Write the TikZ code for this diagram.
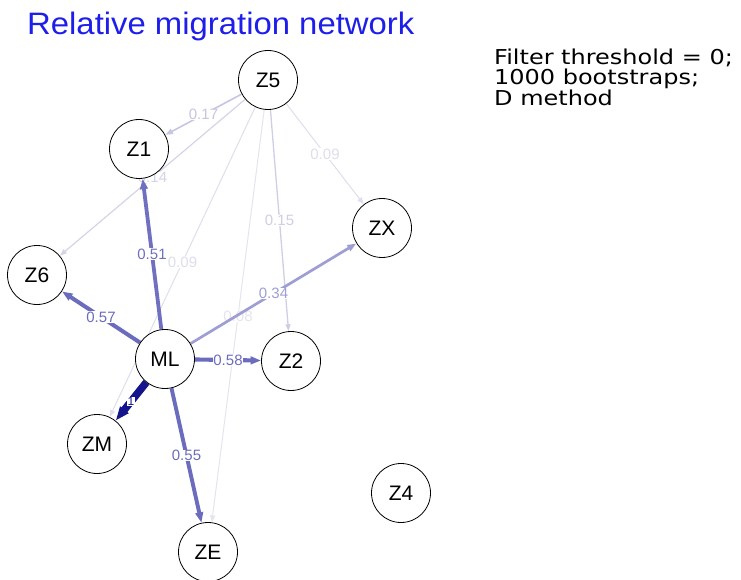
\documentclass[tikz,border=0pt]{standalone}
\usepackage{fontspec}
\setmainfont{Liberation Sans}
\newfontfamily\notefont{DejaVu Sans}[FakeStretch=1.17]
\newfontfamily\titlefont{Liberation Sans}[FakeStretch=1.06]
\usetikzlibrary{arrows.meta}

% edge colours, from faint (small weight) to dark (weight 1)
\definecolor{wA}{RGB}{228,228,238}
\definecolor{wB}{RGB}{222,222,236}
\definecolor{wC}{RGB}{212,212,232}
\definecolor{wD}{RGB}{206,206,230}
\definecolor{wE}{RGB}{198,198,228}
\definecolor{wF}{RGB}{158,158,212}
\definecolor{wG}{RGB}{112,112,192}
\definecolor{wH}{RGB}{108,108,190}
\definecolor{wI}{RGB}{20,20,140}
\definecolor{titleblue}{RGB}{30,30,235}

\pgfdeclarelayer{edges}
\pgfsetlayers{edges,main}

\tikzset{
  pop/.style={circle, draw=black, line width=0.8pt, fill=white,
    minimum size=59pt, inner sep=0pt, font=\fontsize{21}{21}\selectfont},
  link/.style n args={3}{draw=#1, line width=#2,
    -{Triangle[length=7pt, width=5pt, scale=#3]}},
  lab/.style={fill=white, inner sep=0.6pt, text=#1,
    font=\fontsize{15}{15}\selectfont},
}

\begin{document}
\begin{tikzpicture}[x=1pt, y=-1pt]
\useasboundingbox (0,0) rectangle (741,580);

% title and method note
\node[anchor=base west, inner sep=0pt, text=titleblue,
  font=\titlefont\fontsize{31}{31}\selectfont] (title) at (27,35)
  {Relative migration network};
\node[anchor=north west, inner sep=0pt, align=left,
  font=\notefont\fontsize{20.5}{19.5}\selectfont] (note) at (494,49)
  {Filter threshold = 0;\\1000 bootstraps;\\D method};

% populations
\node[pop] (Z5) at (268,80)  {Z5};
\node[pop] (Z1) at (139,149) {Z1};
\node[pop] (ZX) at (382,228) {ZX};
\node[pop] (Z6) at (37,275)  {Z6};
\node[pop] (ML) at (165,359) {ML};
\node[pop] (Z2) at (291,361) {Z2};
\node[pop] (ZM) at (97,444)  {ZM};
\node[pop] (Z4) at (401,493) {Z4};
\node[pop] (ZE) at (208,552) {ZE};

% migration edges, lightest first so heavier ones lie on top
\begin{pgfonlayer}{edges}
\draw[link={wA}{1pt}{1}]   (Z5) -- node[lab=wA] {0.08} (ZE);
\draw[link={wB}{1pt}{1}]   (Z5) -- node[lab=wB] {0.09} (ZM);
\draw[link={wB}{1pt}{1}]   (Z5) -- node[lab=wB] {0.09} (ZX);
\draw[link={wC}{1.2pt}{1}] (Z5) -- node[lab=wC] {0.14} (Z6);
\draw[link={wD}{1.3pt}{1}] (Z5) -- node[lab=wD] {0.15} (Z2);
\draw[link={wE}{1.6pt}{1.1}] (Z5) -- node[lab=wE] {0.17} (Z1);
\draw[link={wF}{2.7pt}{1.3}] (ML) -- node[lab=wF] {0.34} (ZX);
\draw[link={wG}{3.8pt}{1.5}] (ML) -- node[lab=wG] {0.51} (Z1);
\draw[link={wH}{3.9pt}{1.5}] (ML) -- node[lab=wH] {0.55} (ZE);
\draw[link={wH}{4pt}{1.5}]   (ML) -- node[lab=wH] {0.57} (Z6);
\draw[link={wH}{4.1pt}{1.5}] (ML) -- node[lab=wH] {0.58} (Z2);
\draw[link={wI}{7.5pt}{2}]   (ML) -- node[lab=wI, font=\fontsize{12}{12}\selectfont] {1} (ZM);
\end{pgfonlayer}
\end{tikzpicture}
\end{document}
